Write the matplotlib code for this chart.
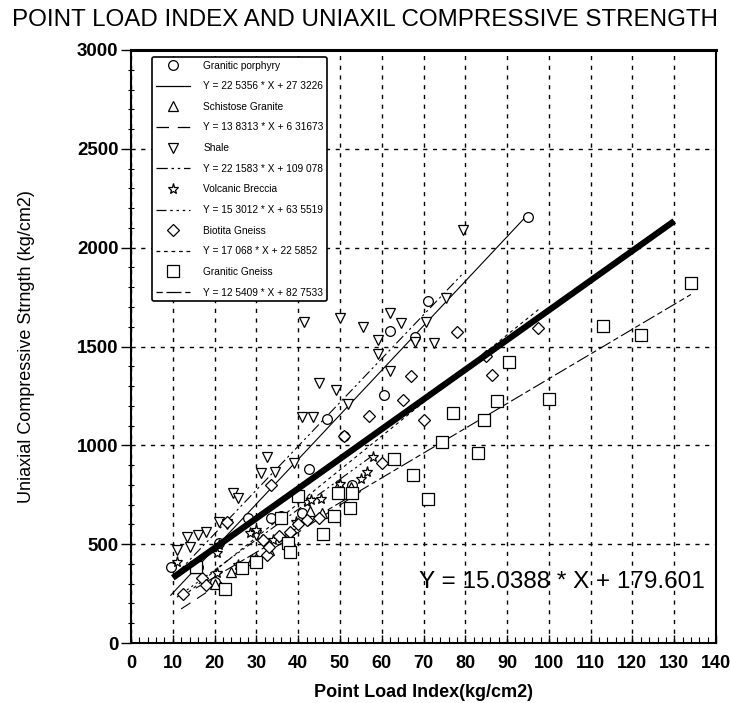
import matplotlib
matplotlib.use("Agg")
import matplotlib.pyplot as plt
from matplotlib.lines import Line2D
import numpy as np

plt.rcParams['font.family'] = ['Liberation Sans', 'DejaVu Sans']

title = "POINT LOAD INDEX AND UNIAXIL COMPRESSIVE STRENGTH"
xlabel = "Point Load Index(kg/cm2)"
ylabel = "Uniaxial Compressive Strngth (kg/cm2)"

# Granitic porphyry (circles)
gp_x = [9.5, 16, 20, 21, 28, 33.5, 36, 41, 42.5, 47, 51, 53, 60.5, 62, 68, 71, 95]
gp_y = [385, 385, 310, 505, 630, 632, 640, 660, 880, 1135, 1045, 800, 1255, 1580, 1550, 1730, 2155]
# Schistose Granite (up triangles)
sg_x = [15.5, 20, 24, 29, 33, 38, 42.8, 45.7, 49.8, 52.6]
sg_y = [380, 300, 360, 420, 470, 520, 668, 657, 805, 790]
# Shale (down triangles)
sh_x = [11, 13.5, 14, 16, 18, 21, 23, 24.5, 25.5, 30, 31, 32.5, 34.5, 39, 41, 43.5, 41.5,
        45, 49, 50, 52, 55.5, 59, 59, 62, 62, 64.5, 68, 70.5, 72.5, 75.5, 79.5]
sh_y = [470, 535, 485, 545, 560, 610, 600, 760, 735, 545, 860, 940, 865, 910, 1145, 1145, 1625,
        1315, 1280, 1645, 1210, 1600, 1535, 1460, 1375, 1670, 1620, 1525, 1625, 1520, 1745, 2090]
# Volcanic Breccia (stars)
vb_x = [11, 20.5, 20.5, 21, 25.5, 26.5, 28.5, 30, 34, 36, 38, 39.5, 42, 43, 45.5, 50, 55, 56.5, 58]
vb_y = [410, 355, 455, 495, 395, 380, 555, 570, 520, 530, 545, 610, 715, 725, 730, 805, 830, 865, 940]
# Biotita Gneiss (diamonds)
bg_x = [12.5, 17, 18, 23, 30, 31.5, 32.5, 33, 33.5, 35.5, 38, 40, 42, 45, 51, 57, 60, 65, 67, 70, 78, 85, 86.5, 97.5]
bg_y = [250, 330, 295, 610, 420, 520, 445, 485, 800, 540, 560, 600, 620, 630, 1045, 1150, 910, 1230, 1350, 1130, 1575, 1450, 1355, 1595]
# Granitic Gneiss (squares)
gg_x = [15.5, 22.5, 26.5, 30, 36, 37.5, 38, 40, 46, 48.5, 49.5, 52.5, 53, 63, 67.5, 71, 74.5, 77, 83, 84.5, 87.5, 90.5, 100, 113, 122, 134]
gg_y = [385, 275, 380, 410, 630, 505, 460, 745, 550, 645, 760, 685, 760, 930, 850, 730, 1015, 1165, 960, 1130, 1225, 1420, 1235, 1605, 1560, 1820]

names = ["Granitic porphyry", "Schistose Granite", "Shale", "Volcanic Breccia", "Biotita Gneiss", "Granitic Gneiss"]
slopes = [22.5356, 13.8313, 22.1583, 15.3012, 17.068, 12.5409]
intercepts = [27.3226, 6.31673, 109.078, 63.5519, 22.5852, 82.7533]
eq_labels = ["Y = 22 5356 * X + 27 3226", "Y = 13 8313 * X + 6 31673", "Y = 22 1583 * X + 109 078",
             "Y = 15 3012 * X + 63 5519", "Y = 17 068 * X + 22 5852", "Y = 12 5409 * X + 82 7533"]
fit_ranges = [(9.5, 95), (12, 55), (11, 79.5), (11, 58), (12.5, 97.5), (15.5, 134)]
all_slope, all_intercept = 15.0388, 179.601
all_range = (10, 130)
all_label = "Y = 15.0388 * X + 179.601"

xs = [gp_x, sg_x, sh_x, vb_x, bg_x, gg_x]
ys = [gp_y, sg_y, sh_y, vb_y, bg_y, gg_y]
markers = ['o', '^', 'v', '*', 'D', 's']
msizes = [7, 7, 7, 8, 6, 8]
dashes = [None, (10, 7), (9, 3, 2, 3, 2, 3), (8, 3, 2, 3, 2, 3, 2, 3), (3, 3), (5, 3, 12, 3)]

fig = plt.figure(figsize=(7.3, 7.03), dpi=100)
ax = fig.add_axes([131/730, 1-643/703, (716-131)/730, (643-50)/703])

handles, labels = [], []
for i in range(6):
    ax.plot(xs[i], ys[i], linestyle='none', marker=markers[i], markersize=msizes[i],
            markerfacecolor='white', markeredgecolor='black', markeredgewidth=0.9, zorder=3)
    x0, x1 = fit_ranges[i]
    lx = np.array([x0, x1])
    ln, = ax.plot(lx, slopes[i]*lx + intercepts[i], color='black', lw=0.8, zorder=2)
    if dashes[i] is not None:
        ln.set_dashes(dashes[i])
    mh = Line2D([], [], linestyle='none', marker=markers[i], markersize=msizes[i],
                markerfacecolor='white', markeredgecolor='black', markeredgewidth=0.9)
    lh = Line2D([], [], color='black', lw=0.9)
    if dashes[i] is not None:
        lh.set_dashes(dashes[i])
    handles += [mh, lh]
    labels += [names[i], eq_labels[i]]

lx = np.array(all_range)
ax.plot(lx, all_slope*lx + all_intercept, color='black', lw=4.5, solid_capstyle='butt', zorder=4)

ax.set_xlim(0, 140)
ax.set_ylim(0, 3000)
ax.set_xticks(np.arange(0, 141, 10))
ax.set_xticks(np.arange(0, 141, 2), minor=True)
ax.set_yticks(np.arange(0, 3001, 500))
ax.set_yticks(np.arange(0, 3001, 100), minor=True)
ax.tick_params(axis='x', which='major', direction='in', length=6, width=1, labelsize=13, pad=9)
ax.tick_params(axis='x', which='minor', direction='in', length=4, width=0.8)
ax.tick_params(axis='y', which='major', direction='out', length=7, width=1, labelsize=13.5, pad=2)
ax.tick_params(axis='y', which='minor', direction='inout', length=5, width=0.8)
for lab in ax.get_xticklabels() + ax.get_yticklabels():
    lab.set_fontweight('bold')

ax.grid(True, which='major', color='black', linestyle=(0, (3, 4)), linewidth=1.0)
ax.set_axisbelow(True)
for s in ['left', 'bottom', 'right']:
    ax.spines[s].set_linewidth(1.5)
ax.spines['top'].set_linewidth(2.2)

ax.set_xlabel(xlabel, fontsize=13, fontweight='bold', labelpad=8)
ax.set_ylabel(ylabel, fontsize=13, labelpad=30)

ax.text(69, 308, all_label, fontsize=17.5, ha='left', va='center', zorder=6)

fig.text(12/730, 1-20/703, title, fontsize=17.4, ha='left', va='center')

leg = ax.legend(handles, labels, loc='upper left', bbox_to_anchor=((152-131)/585, 1-(57-50)/593),
                fontsize=7.3, labelspacing=1.05, handlelength=3.4, handletextpad=1.3,
                borderpad=0.35, borderaxespad=0, fancybox=True, framealpha=1, edgecolor='black')
leg.get_frame().set_linewidth(1.2)
leg.set_zorder(7)

fig.savefig("out.png", dpi=100)
